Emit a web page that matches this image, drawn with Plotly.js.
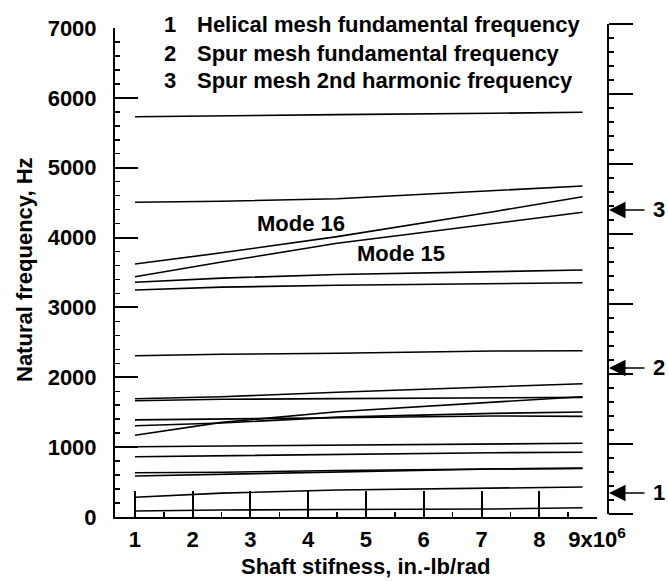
<!DOCTYPE html>
<html>
<head>
<meta charset="utf-8">
<script src="https://cdn.plot.ly/plotly-3.0.1.min.js"></script>
<style>html,body{margin:0;padding:0;background:#fff;}</style>
</head>
<body>
<div id="chart" style="width:668px;height:581px;"></div>
<script>
// ---- data ----
const stiffness = [1, 2.5, 4.5, 7.2, 8.75];           // x10^6 in.-lb/rad
const mode_a  = [5730, 5745, 5760, 5780, 5793];
const mode_b  = [4505, 4520, 4555, 4675, 4738];
const mode16  = [3622, 3782, 4013, 4369, 4585];
const mode15  = [3440, 3650, 3918, 4194, 4362];
const mode_c  = [3360, 3420, 3471, 3515, 3536];
const mode_d  = [3249, 3290, 3317, 3345, 3354];
const mode_e  = [2309, 2329, 2343, 2376, 2380];
const mode_f  = [1693, 1722, 1785, 1865, 1908];
const mode_g  = [1665, 1685, 1695, 1708, 1713];
const mode_h  = [1390, 1400, 1420, 1446, 1440];
const mode_i  = [1307, 1345, 1430, 1484, 1503];
const mode_j  = [1170, 1355, 1507, 1650, 1722];
const mode_k  = [1006, 1016, 1030, 1045, 1055];
const mode_l  = [863, 877, 900, 920, 926];
const mode_m  = [634, 640, 665, 691, 700];
const mode_n  = [587, 611, 650, 688, 694];
const mode_o  = [282, 342, 386, 410, 429];
const mode_p  = [86, 100, 108, 115, 133];
const allModes = [mode_a, mode_b, mode16, mode15, mode_c, mode_d, mode_e, mode_f,
                  mode_g, mode_h, mode_i, mode_j, mode_k, mode_l, mode_m, mode_n, mode_o, mode_p];

const xTickVals = [1, 2, 3, 4, 5, 6, 7, 8, 9];
const xTickText = ['1', '2', '3', '4', '5', '6', '7', '8', '9x10<sup>6</sup>'];

const meshNumbers = ['1', '2', '3'];
const meshNames = ['Helical mesh fundamental frequency',
                   'Spur mesh fundamental frequency',
                   'Spur mesh 2nd harmonic frequency'];
const meshFreqs = [344, 2133, 4395];   // Hz, arrows on right scale

const modeLabels = ['Mode 16', 'Mode 15'];
const modeLabelX = [3.87, 5.61];
const modeLabelY = [4208, 3765];

// ---- layout helpers ----
const W = 668, H = 581;
const L = 115, R = 60, T = 24, B = 64;
const PW = W - L - R, PH = H - T - B;
const px2x = p => (p - L) / PW;
const px2y = p => (H - B - p) / PH;

const FONT = 'Liberation Sans, Arial, Helvetica, sans-serif';
const fnt = (s) => ({family: FONT, size: s, color: '#000', weight: 'bold'});

const traces = allModes.map(v => ({
  type: 'scatter', mode: 'lines', x: stiffness, y: v,
  line: {color: '#000', width: 1.6}, hoverinfo: 'skip', showlegend: false,
  xaxis: 'x', yaxis: 'y'
}));
// right scale (no marks of its own)
traces.push({type: 'scatter', mode: 'lines', x: [], y: [], xaxis: 'x', yaxis: 'y2', showlegend: false});

const annotations = [];
meshNumbers.forEach((n, i) => {
  annotations.push({xref: 'paper', yref: 'paper', x: px2x(162), y: px2y(25 + i * 28),
    xanchor: 'left', yanchor: 'middle', text: n, showarrow: false, font: fnt(22)});
  annotations.push({xref: 'paper', yref: 'paper', x: px2x(195), y: px2y(25 + i * 28),
    xanchor: 'left', yanchor: 'middle', text: meshNames[i], showarrow: false, font: fnt(22)});
  annotations.push({xref: 'paper', yref: 'y', x: px2x(609), y: meshFreqs[i],
    xanchor: 'center', yanchor: 'middle',
    text: n, showarrow: true, ax: 50, ay: 0, arrowhead: 2, arrowsize: 2.2,
    arrowwidth: 1.5, arrowcolor: '#000', startstandoff: 7, standoff: 0, font: fnt(22)});
});
modeLabels.forEach((t, i) => {
  annotations.push({xref: 'x', yref: 'y', x: modeLabelX[i], y: modeLabelY[i],
    xanchor: 'center', yanchor: 'middle',
    text: t, showarrow: false, font: fnt(22)});
});
annotations.push({xref: 'paper', yref: 'paper', x: px2x(24), y: px2y(270),
  xanchor: 'center', yanchor: 'middle',
  text: 'Natural frequency, Hz', textangle: -90, showarrow: false, font: fnt(22)});
annotations.push({xref: 'paper', yref: 'paper', x: px2x(365), y: px2y(566),
  xanchor: 'center', yanchor: 'middle', borderpad: 0,
  text: 'Shaft stifness, in.-lb/rad', showarrow: false, font: fnt(22)});

const layout = {
  width: W, height: H,
  margin: {l: L, r: R, t: T, b: B, pad: 0},
  paper_bgcolor: '#fff', plot_bgcolor: 'rgba(0,0,0,0)',
  showlegend: false,
  xaxis: {
    domain: [0, (597 - L) / PW], range: [0.654, 9], anchor: 'y',
    showline: true, linecolor: '#000', linewidth: 2,
    showgrid: false, zeroline: false,
    tickmode: 'array', tickvals: xTickVals, ticktext: xTickText,
    ticks: 'inside', ticklen: 26, tickwidth: 2, tickcolor: '#000',
    ticklabelstandoff: 2,
    minor: {tickmode: 'array', tickvals: [1.5, 2.5, 3.5, 4.5, 5.5, 6.5, 7.5, 8.5],
            ticks: 'inside', ticklen: 5, tickwidth: 1.5, tickcolor: '#000', showgrid: false},
    tickfont: fnt(22)
  },
  yaxis: {
    domain: [0, (PH - 4) / PH], range: [0, 7000], anchor: 'x',
    showline: true, linecolor: '#000', linewidth: 2,
    showgrid: false, zeroline: false,
    tickmode: 'linear', tick0: 0, dtick: 1000,
    ticks: 'inside', ticklen: 23, tickwidth: 2, tickcolor: '#000',
    ticklabelstandoff: 12,
    minor: {dtick: 200, ticks: 'inside', ticklen: 5, tickwidth: 1.5, tickcolor: '#000', showgrid: false},
    tickfont: fnt(22)
  },
  yaxis2: {
    domain: [3 / PH, 1], range: [0, 7000], anchor: 'free', position: 1, side: 'right',
    showline: true, linecolor: '#000', linewidth: 2,
    showgrid: false, zeroline: false, showticklabels: false,
    tickmode: 'linear', tick0: 0, dtick: 1000,
    ticks: 'outside', ticklen: 24, tickwidth: 2, tickcolor: '#000',
    minor: {dtick: 200, ticks: 'outside', ticklen: 5, tickwidth: 1.5, tickcolor: '#000', showgrid: false}
  },
  annotations: annotations
};

Plotly.newPlot('chart', traces, layout, {staticPlot: true, displayModeBar: false});
</script>
</body>
</html>
